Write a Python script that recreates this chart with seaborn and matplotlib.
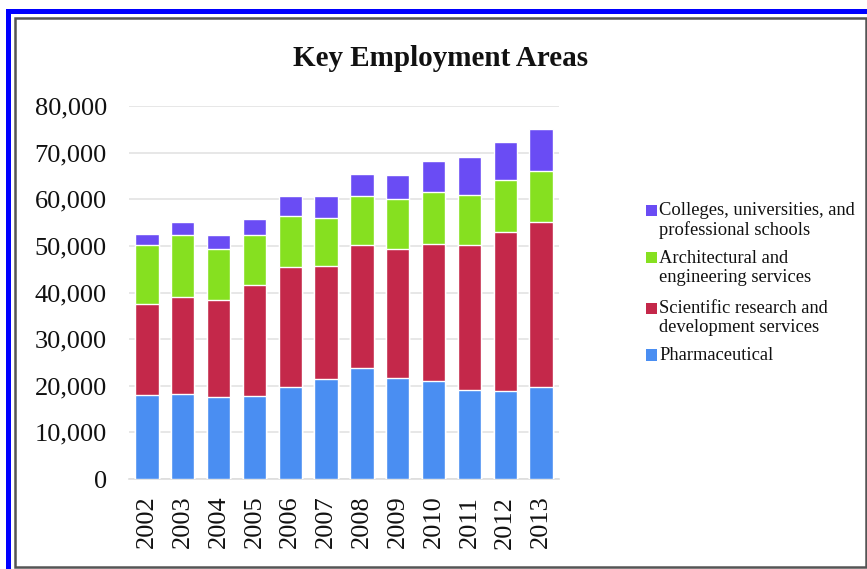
import numpy as np
import pandas as pd
import seaborn as sns
import matplotlib.pyplot as plt
from matplotlib.patches import Rectangle
from matplotlib.ticker import FuncFormatter

# Employment by sector, 2002-2013
years = ["2002", "2003", "2004", "2005", "2006", "2007",
         "2008", "2009", "2010", "2011", "2012", "2013"]
pharmaceutical = [17980, 18190, 17620, 17830, 19760, 21470,
                  23900, 21620, 21040, 19050, 18840, 19630]
scientific_rd = [19620, 20830, 20690, 23690, 25680, 24120,
                 26250, 27610, 29330, 31040, 34090, 35590]
arch_engineering = [12490, 13210, 11060, 10850, 11070, 10490,
                    10570, 10770, 11130, 10770, 11220, 10920]
colleges = [2500, 2850, 3000, 3430, 4130, 4710,
            4710, 5280, 6630, 8270, 8130, 8920]

series_names = ["Pharmaceutical",
                "Scientific research and\ndevelopment services",
                "Architectural and\nengineering services",
                "Colleges, universities, and\nprofessional schools"]
series_values = [pharmaceutical, scientific_rd, arch_engineering, colleges]
series_colors = ["#4a8ef2", "#c4284a", "#86e020", "#6a4cf4"]

W, H = 867, 569
sns.set_theme(style="white")
plt.rcParams["font.family"] = ["Liberation Serif", "DejaVu Serif"]

fig = plt.figure(figsize=(W / 100, H / 100), dpi=100)
fig.patch.set_facecolor("white")


def fx(px):
    return px / W


def fy(py):
    return 1 - py / H


# frame lines around the figure
fig.add_artist(Rectangle((fx(6), fy(569)), fx(5), fy(9) - fy(569),
                         transform=fig.transFigure, color="#0000ff", lw=0))
fig.add_artist(Rectangle((fx(6), fy(14)), 1 - fx(6), fy(9) - fy(14),
                         transform=fig.transFigure, color="#0000ff", lw=0))
fig.add_artist(Rectangle((fx(15), fy(567)), fx(866) - fx(15), fy(18) - fy(567),
                         transform=fig.transFigure, fill=False,
                         edgecolor="#555555", lw=1.8))

ax = fig.add_axes([fx(129), fy(479), fx(559) - fx(129), fy(106) - fy(479)])

# stacked bars: draw cumulative totals from the top layer down
df = pd.DataFrame({"year": years})
cum = np.cumsum(np.array(series_values), axis=0)
for i in range(len(series_values) - 1, -1, -1):
    df["total"] = cum[i]
    sns.barplot(data=df, x="year", y="total", color=series_colors[i],
                saturation=1, width=0.65, ax=ax, zorder=3)

ax.set_ylim(0, 80000)
ax.set_xlim(-0.5, 11.5)
ax.set_yticks(np.arange(0, 80001, 10000))
ax.yaxis.set_major_formatter(FuncFormatter(lambda v, p: f"{int(v):,}"))
ax.grid(axis="y", color="#e3e3e3", lw=1.2, zorder=0)
ax.set_axisbelow(True)
for s in ["left", "right", "top"]:
    ax.spines[s].set_visible(False)
ax.spines["bottom"].set_color("#dddddd")
ax.spines["bottom"].set_linewidth(1.2)
ax.set_xlabel("")
ax.set_ylabel("")
ax.tick_params(axis="y", labelsize=19, length=0, pad=16, colors="#111111")
ax.tick_params(axis="x", labelsize=19, length=0, pad=12, rotation=90,
               colors="#111111")

fig.text(fx(441), fy(59), "Key Employment Areas", ha="center", va="center",
         fontsize=21, fontweight="bold", color="#111111")

# legend, top entry first
legend_rows = [210, 258, 308, 355]
for row, idx in zip(legend_rows, range(len(series_names) - 1, -1, -1)):
    fig.add_artist(Rectangle((fx(646), fy(row + 5.5)), fx(11), fy(row - 5.5) - fy(row + 5.5),
                             transform=fig.transFigure,
                             color=series_colors[idx], lw=0))
    fig.text(fx(659), fy(row - 8), series_names[idx], ha="left", va="top",
             fontsize=13.3, color="#111111", linespacing=1.17)

fig.savefig("out.png", dpi=100)
